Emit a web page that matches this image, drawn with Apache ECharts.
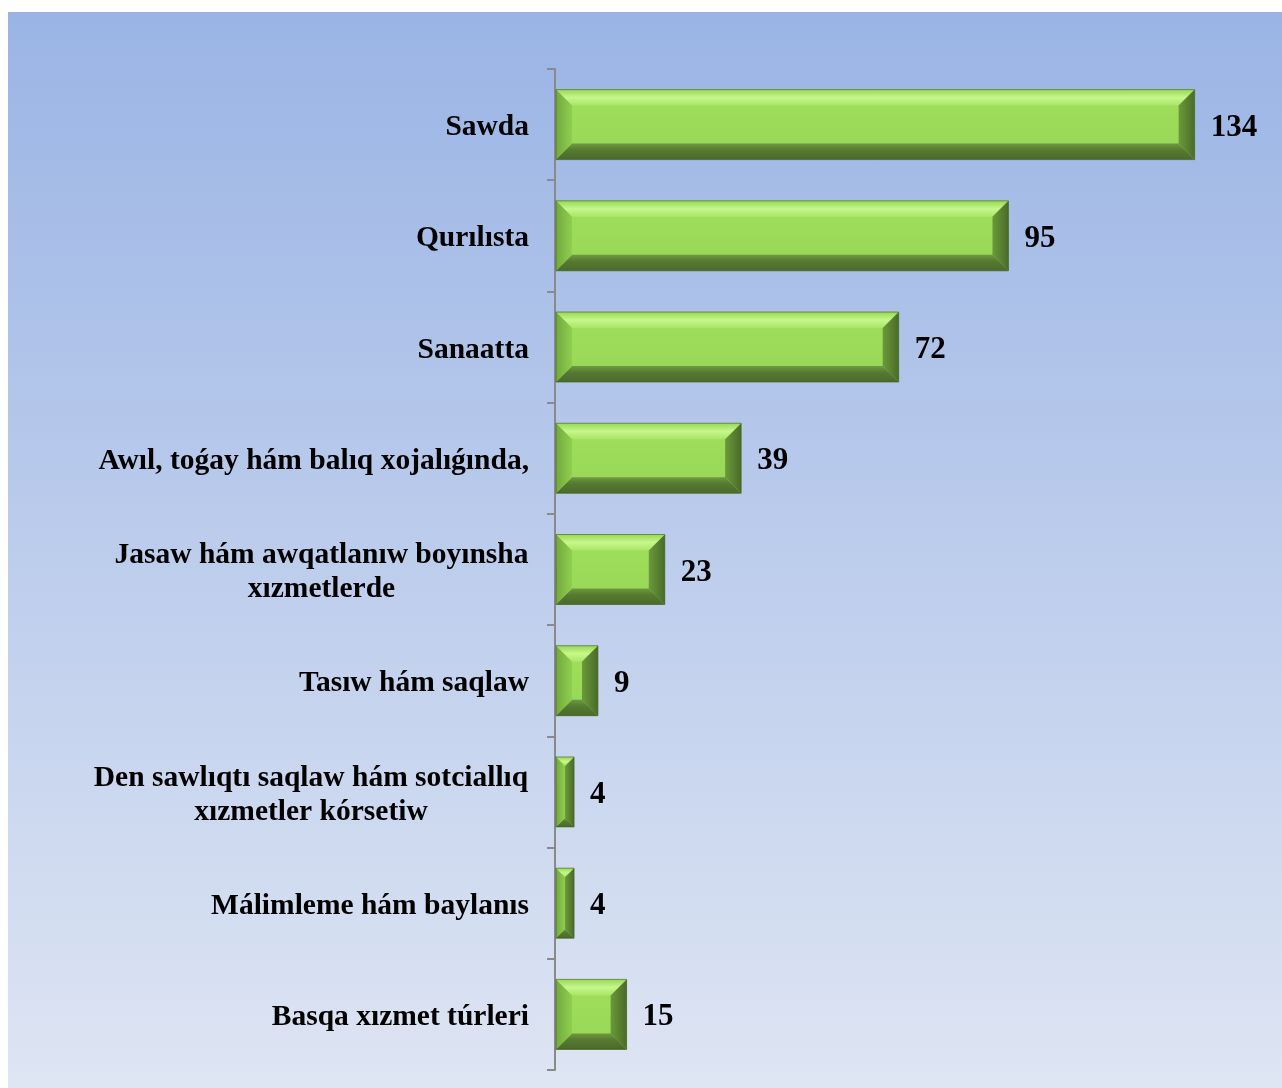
<!DOCTYPE html>
<html>
<head>
<meta charset="utf-8">
<title>Sectors</title>
<script src="https://cdn.jsdelivr.net/npm/echarts@6/dist/echarts.min.js"></script>
<style>
  html, body { margin: 0; padding: 0; background: #fff; }
  #chart { width: 1282px; height: 1088px; }
</style>
</head>
<body>
<div id="chart"></div>
<script>
// data
const categories = [
  'Sawda',
  'Qurılısta',
  'Sanaatta',
  'Awıl, toǵay hám balıq xojalıǵında,',
  'Jasaw hám awqatlanıw boyınsha\nxızmetlerde',
  'Tasıw hám saqlaw',
  'Den sawlıqtı saqlaw hám sotciallıq\nxızmetler kórsetiw',
  'Málimleme hám baylanıs',
  'Basqa xızmet túrleri'
];
const values = [134, 95, 72, 39, 23, 9, 4, 4, 15];

const FONT = '"Liberation Serif", "Times New Roman", serif';
const LABEL_SIZE = 29.5;

// measure multi-line labels so the lines can be centred inside their block
const ctx = document.createElement('canvas').getContext('2d');
ctx.font = 'bold ' + LABEL_SIZE + 'px ' + FONT;
const rich = {};
categories.forEach((c, i) => {
  const lines = c.split('\n');
  if (lines.length > 1) {
    const w = Math.max(...lines.map(l => ctx.measureText(l).width));
    rich['l' + i] = {
      width: Math.ceil(w) + 1,
      align: 'center',
      fontSize: LABEL_SIZE,
      fontWeight: 'bold',
      fontFamily: FONT,
      color: '#000',
      lineHeight: 34
    };
  }
});

function bevelBar(params, api) {
  const idx = api.value(0);
  const val = api.value(1);
  const p0 = api.coord([0, idx]);
  const p1 = api.coord([val, idx]);
  const h = 70;
  const x0 = p0[0] + 1, x1 = p1[0];
  const y0 = p0[1] - h / 2, y1 = p0[1] + h / 2;
  const w = x1 - x0;
  const b = Math.min(16, w / 2, h / 2);
  const poly = (pts, fill) => ({ type: 'polygon', shape: { points: pts }, style: { fill: fill } });
  return {
    type: 'group',
    children: [
      { type: 'rect', shape: { x: x0, y: y0, width: w, height: h },
        style: { fill: new echarts.graphic.LinearGradient(0, 0, 0, 1, [
          { offset: 0, color: '#a0df5c' }, { offset: 0.75, color: '#9ad957' }, { offset: 1, color: '#8ac64c' }
        ]) } },
      poly([[x0, y0], [x1, y0], [x1 - b, y0 + b], [x0 + b, y0 + b]],
        new echarts.graphic.LinearGradient(0, 0, 0, 1, [
          { offset: 0, color: '#98d855' }, { offset: 0.5, color: '#c6f78b' }, { offset: 1, color: '#a9e566' }
        ])),
      poly([[x0, y1], [x1, y1], [x1 - b, y1 - b], [x0 + b, y1 - b]],
        new echarts.graphic.LinearGradient(0, 0, 0, 1, [
          { offset: 0, color: '#6e9a42' }, { offset: 0.4, color: '#567a31' }, { offset: 1, color: '#4a6a2b' }
        ])),
      poly([[x0, y0], [x0 + b, y0 + b], [x0 + b, y1 - b], [x0, y1]],
        new echarts.graphic.LinearGradient(0, 0, 1, 0, [
          { offset: 0, color: '#72a93d' }, { offset: 1, color: '#8fcf4f' }
        ])),
      poly([[x1, y0], [x1 - b, y0 + b], [x1 - b, y1 - b], [x1, y1]],
        new echarts.graphic.LinearGradient(0, 0, 1, 0, [
          { offset: 0, color: '#6a9a3a' }, { offset: 1, color: '#4a6b2a' }
        ])),
      { type: 'rect', shape: { x: x0, y: y0, width: w, height: h },
        style: { fill: 'none', stroke: '#3f5c22', lineWidth: 1, opacity: 0.6 } },
      { type: 'text', x: x1 + 16, y: p0[1] + 3,
        style: { text: String(val), fill: '#000', font: 'bold 31px ' + FONT,
          textAlign: 'left', textVerticalAlign: 'middle' } }
    ]
  };
}

const chart = echarts.init(document.getElementById('chart'));
chart.setOption({
  backgroundColor: '#ffffff',
  animation: false,
  graphic: [{
    type: 'rect', z: -10, left: 8, top: 12,
    shape: { width: 1274, height: 1076 },
    style: { fill: new echarts.graphic.LinearGradient(0, 0, 0, 1, [
      { offset: 0, color: '#9ab4e5' }, { offset: 1, color: '#dee5f3' }
    ]) }
  }],
  grid: { left: 555, right: 11, top: 69, bottom: 18 },
  xAxis: { type: 'value', min: 0, max: 150, show: false },
  yAxis: {
    type: 'category',
    data: categories,
    inverse: true,
    axisLine: { show: true, lineStyle: { color: '#8a8a8a', width: 2 } },
    axisTick: { show: true, length: 8, lineStyle: { color: '#8a8a8a', width: 2 } },
    axisLabel: {
      margin: 26,
      padding: [6, 0, 0, 0],
      fontSize: LABEL_SIZE,
      fontWeight: 'bold',
      fontFamily: FONT,
      color: '#000',
      lineHeight: 34,
      rich: rich,
      formatter: (v, i) => {
        const lines = v.split('\n');
        if (lines.length === 1) return v;
        return lines.map(l => '{l' + i + '|' + l + '}').join('\n');
      }
    },
    splitLine: { show: false }
  },
  series: [{
    type: 'custom',
    renderItem: bevelBar,
    encode: { x: 1, y: 0 },
    data: values.map((v, i) => [i, v])
  }]
});
</script>
</body>
</html>
